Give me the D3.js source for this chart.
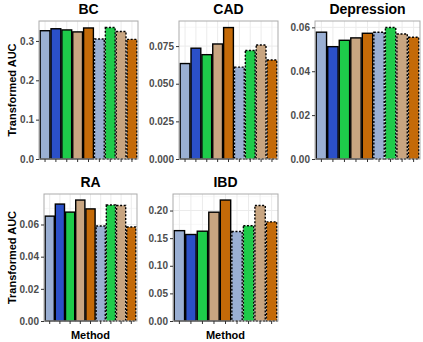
<!DOCTYPE html>
<html>
<head>
<meta charset="utf-8">
<script src="https://cdn.jsdelivr.net/npm/d3@7"></script>
<style>
  html, body { margin: 0; padding: 0; background: #fff; }
  svg { display: block; font-family: "Liberation Sans", Arial, sans-serif; }
</style>
</head>
<body>
<svg id="chart" width="423" height="342"></svg>
<script>
// ---- data ----
const methods = ["M1", "M2", "M3", "M4", "M5", "M6", "M7", "M8", "M9"];
const methodFills = ["#9AAFD3", "#2B50C8", "#1ECB4A", "#C8A581", "#C46A08", "#9AAFD3", "#1ECB4A", "#C8A581", "#C46A08"];
const methodDashed = [false, false, false, false, false, true, true, true, true];

const panelTitles = ["BC", "CAD", "Depression", "RA", "IBD"];
const valuesBC = [0.326, 0.331, 0.328, 0.323, 0.333, 0.305, 0.334, 0.324, 0.304];
const valuesCAD = [0.0634, 0.0736, 0.0693, 0.0764, 0.0873, 0.0610, 0.0721, 0.0757, 0.0658];
const valuesDepression = [0.0578, 0.0512, 0.0541, 0.0552, 0.0573, 0.0578, 0.0599, 0.0570, 0.0555];
const valuesRA = [0.0652, 0.0727, 0.0677, 0.0752, 0.0697, 0.0591, 0.0721, 0.0718, 0.0584];
const valuesIBD = [0.1636, 0.1566, 0.1626, 0.1970, 0.2190, 0.1620, 0.1725, 0.2090, 0.1795];

const ticksBC = [0, 0.1, 0.2, 0.3];
const ticksCAD = [0, 0.025, 0.05, 0.075];
const ticksDepression = [0, 0.02, 0.04, 0.06];
const ticksRA = [0, 0.02, 0.04, 0.06];
const ticksIBD = [0, 0.05, 0.10, 0.15, 0.20];
const tickDigits = [1, 3, 2, 2, 2];

const yAxisTitle = "Transformed AUC";
const xAxisTitle = "Method";

// ---- layout ----
const layout = [
  { x0: 39, x1: 138, y0: 21, y1: 159, yTitle: true, xTitle: false },
  { x0: 179, x1: 278, y0: 21, y1: 159, yTitle: false, xTitle: false },
  { x0: 315, x1: 420, y0: 21, y1: 159, yTitle: false, xTitle: false },
  { x0: 44, x1: 137, y0: 194, y1: 321, yTitle: true, xTitle: true },
  { x0: 173, x1: 278, y0: 194, y1: 321, yTitle: false, xTitle: true }
];
const panelValues = [valuesBC, valuesCAD, valuesDepression, valuesRA, valuesIBD];
const panelTicks = [ticksBC, ticksCAD, ticksDepression, ticksRA, ticksIBD];

const svg = d3.select("#chart");

panelTitles.forEach((title, i) => {
  const L = layout[i];
  const vals = panelValues[i];
  const ticks = panelTicks[i];
  const g = svg.append("g");

  const x = d3.scaleBand().domain(methods)
    .range([L.x0 + 0.5, L.x1 - 0.5]).paddingInner(0.1).paddingOuter(0.06);
  const ymax = d3.max(vals) * 1.05;
  const y = d3.scaleLinear().domain([0, ymax]).range([L.y1, L.y0]);

  // panel background
  g.append("rect").attr("x", L.x0).attr("y", L.y0)
    .attr("width", L.x1 - L.x0).attr("height", L.y1 - L.y0)
    .attr("fill", "#fff");

  // minor grid
  const step = ticks[1] - ticks[0];
  const minor = [];
  for (let v = step / 2; v < ymax; v += step) minor.push(v);
  g.selectAll(".minor").data(minor).enter().append("line")
    .attr("x1", L.x0).attr("x2", L.x1)
    .attr("y1", d => y(d)).attr("y2", d => y(d))
    .attr("stroke", "#F2F2F2").attr("stroke-width", 0.6);
  // major grid
  g.selectAll(".major").data(ticks).enter().append("line")
    .attr("x1", L.x0).attr("x2", L.x1)
    .attr("y1", d => y(d)).attr("y2", d => y(d))
    .attr("stroke", "#EBEBEB").attr("stroke-width", 1);
  g.selectAll(".vgrid").data(methods).enter().append("line")
    .attr("x1", d => x(d) + x.bandwidth() / 2).attr("x2", d => x(d) + x.bandwidth() / 2)
    .attr("y1", L.y0).attr("y2", L.y1)
    .attr("stroke", "#EBEBEB").attr("stroke-width", 1);

  // bars
  g.selectAll(".bar").data(methods).enter().append("rect")
    .attr("x", d => x(d)).attr("width", x.bandwidth())
    .attr("y", (d, j) => y(vals[j]))
    .attr("height", (d, j) => y(0) - y(vals[j]))
    .attr("fill", (d, j) => methodFills[j])
    .attr("stroke", "#000")
    .attr("stroke-width", 1.4)
    .attr("stroke-dasharray", (d, j) => methodDashed[j] ? "2,1.6" : null);

  // border
  g.append("rect").attr("x", L.x0).attr("y", L.y0)
    .attr("width", L.x1 - L.x0).attr("height", L.y1 - L.y0)
    .attr("fill", "none").attr("stroke", "#ABABAB").attr("stroke-width", 1);

  // y axis
  const fmt = d3.format("." + tickDigits[i] + "f");
  const yAxis = d3.axisLeft(y).tickValues(ticks).tickFormat(fmt).tickSize(3).tickPadding(2);
  const ya = g.append("g").attr("transform", `translate(${L.x0},0)`).call(yAxis);
  ya.select(".domain").remove();
  ya.selectAll(".tick line").attr("stroke", "#333");
  ya.selectAll(".tick text").attr("fill", "#4D4D4D")
    .style("font-size", "10px").style("font-weight", "bold");

  // x axis
  const xAxis = d3.axisBottom(x).tickSize(3).tickFormat("");
  const xa = g.append("g").attr("transform", `translate(0,${L.y1})`).call(xAxis);
  xa.select(".domain").remove();
  xa.selectAll(".tick line").attr("stroke", "#333");

  // title
  g.append("text").attr("x", (L.x0 + L.x1) / 2).attr("y", L.y0 - 7)
    .attr("text-anchor", "middle")
    .style("font-size", "14px").style("font-weight", "bold")
    .attr("fill", "#000").text(title);

  if (L.yTitle) {
    g.append("text")
      .attr("transform", `translate(16,${(L.y0 + L.y1) / 2}) rotate(-90)`)
      .attr("text-anchor", "middle")
      .style("font-size", "11px").style("font-weight", "bold")
      .attr("fill", "#000").text(yAxisTitle);
  }
  if (L.xTitle) {
    g.append("text").attr("x", (L.x0 + L.x1) / 2).attr("y", 339)
      .attr("text-anchor", "middle")
      .style("font-size", "11px").style("font-weight", "bold")
      .attr("fill", "#000").text(xAxisTitle);
  }
});
</script>
</body>
</html>
